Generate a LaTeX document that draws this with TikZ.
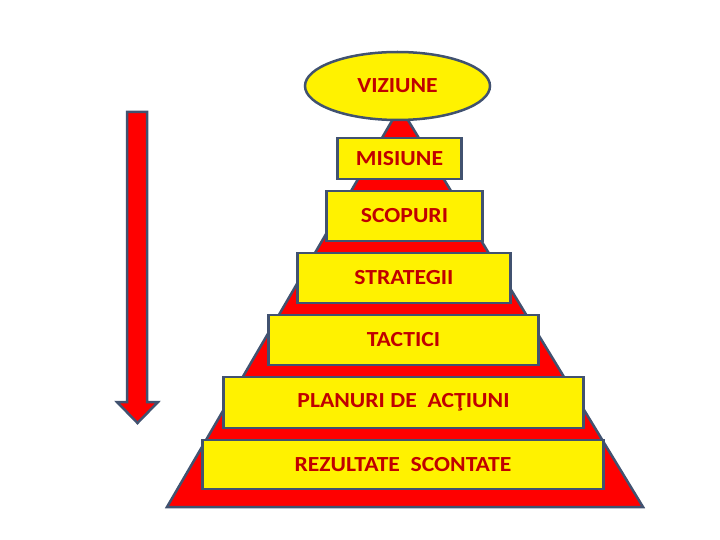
\documentclass[tikz,border=0pt]{standalone}
\usepackage{fontspec}
\setmainfont{Carlito}[FakeStretch=1.1]
\usetikzlibrary{shapes.geometric}
\definecolor{slateedge}{RGB}{65,82,112}
\definecolor{darkred}{RGB}{192,0,0}

\begin{document}
\begin{tikzpicture}[x=1pt, y=-1pt,
    outline/.style={draw=slateedge, line width=2.5pt},
    level/.style={outline, fill=yellow, text=darkred, inner sep=0pt,
        font=\fontsize{21.5}{24}\selectfont\bfseries},
    ]
    \useasboundingbox (0,0) rectangle (720,540);

    % Red pyramid behind the levels
    \draw[outline, fill=red] (400,107) -- (643,507) -- (167,507) -- cycle;

    % Levels, top to bottom
    \node (viziune) [level, ellipse, minimum width=185, minimum height=68] at (397.5,86) {VIZIUNE};
    \node (misiune) [level, minimum width=124, minimum height=41] at (399.5,158.5) {MISIUNE};
    \node (scopuri) [level, minimum width=156, minimum height=50] at (404.5,216) {SCOPURI};
    \node (strategii) [level, minimum width=213, minimum height=50] at (404,278) {STRATEGII};
    \node (tactici) [level, minimum width=270, minimum height=50] at (403.5,340) {TACTICI};
    \node (planuri) [level, minimum width=360, minimum height=51] at (403.5,402.5) {PLANURI DE\ \ ACŢIUNI};
    \node (rezultate) [level, minimum width=401, minimum height=49] at (403,464.5) {REZULTATE\ \ SCONTATE};

    % Downward arrow on the left
    \draw[outline, fill=red] (127,112) -- (147,112) -- (147,402) -- (158,402)
        -- (137.5,423) -- (117,402) -- (127,402) -- cycle;
\end{tikzpicture}
\end{document}
